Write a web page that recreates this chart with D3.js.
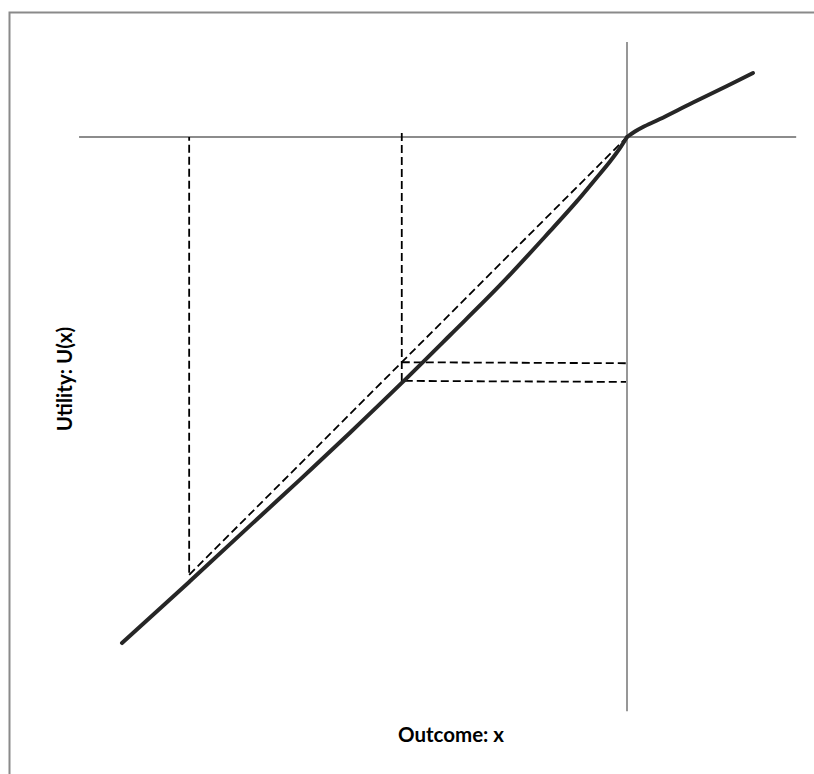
<!DOCTYPE html>
<html>
<head>
<meta charset="utf-8">
<script src="https://cdn.jsdelivr.net/npm/d3@7"></script>
<style>
  html, body { margin: 0; padding: 0; background: #fff; }
  svg { display: block; }
</style>
</head>
<body>
<svg id="chart" width="814" height="774"></svg>
<script>
// ---- data (outcome x, utility U(x)) ----
const lossX = [-100, -86.7, -74.7, -64.8, -54.9, -44.6, -35.0, -25.1, -15.2, -9.9, -6.3, -3.4, -1.4, 0];
const lossU = [-100.2, -88.1, -77.0, -67.9, -58.6, -48.7, -39.2, -29.3, -18.6, -12.7, -8.4, -4.9, -2.2, 0];
const gainX = [0, 1.58, 3.17, 6.53, 13.07, 19.8, 24.95];
const gainU = [0, 1.09, 1.98, 3.56, 6.83, 10.1, 12.67];
// gamble: outcomes A and 0 with equal chance; expected value and its utilities
const gambleX = [-86.7, 0];          // chord end points (outcomes)
const gambleU = [-86.7, 0];          // their utilities
const expectedX = -44.6;            // expected outcome
const expectedU = [-44.6, -48.3];   // utility of gamble (chord) and utility of expected value (curve)
const axisX = [-108.5, 33.5];       // horizontal axis extent
const axisU = [18.8, -113.7];       // vertical axis extent
const xLabel = "Outcome: x";
const yLabel = "Utility: U(x)";

const svg = d3.select("#chart");

// scales: same px per unit on both axes, origin at (627,137)
const x = d3.scaleLinear().domain([-100, 0]).range([122, 627]);
const y = d3.scaleLinear().domain([-100, 0]).range([642, 137]);

// frame
svg.append("rect")
  .attr("x", 9.5).attr("y", 12.5)
  .attr("width", 820).attr("height", 800)
  .attr("fill", "none").attr("stroke", "#8a8a8a").attr("stroke-width", 2);

// axes
const axisColor = "#8c8c8c";
svg.append("line")
  .attr("x1", x(axisX[0])).attr("x2", x(axisX[1]))
  .attr("y1", y(0)).attr("y2", y(0))
  .attr("stroke", axisColor).attr("stroke-width", 1.8);
svg.append("line")
  .attr("x1", x(0)).attr("x2", x(0))
  .attr("y1", y(axisU[0])).attr("y2", y(axisU[1]))
  .attr("stroke", axisColor).attr("stroke-width", 1.8);

// dashed guide lines
const g = svg.append("g")
  .attr("stroke", "#000").attr("stroke-width", 1.8)
  .attr("stroke-dasharray", "8,4").attr("fill", "none");

g.append("line")
  .attr("x1", x(gambleX[0])).attr("x2", x(gambleX[0]))
  .attr("y1", y(gambleU[0]) - 2).attr("y2", y(0));
g.append("line")
  .attr("x1", x(expectedX)).attr("x2", x(expectedX))
  .attr("y1", y(expectedU[1])).attr("y2", y(0) - 7);
g.append("line")
  .attr("x1", x(gambleX[0])).attr("y1", y(gambleU[0]))
  .attr("x2", x(gambleX[1])).attr("y2", y(gambleU[1]));
expectedU.forEach((u, i) => {
  g.append("line")
    .attr("x1", x(expectedX) + (i ? 3 : 0)).attr("x2", x(0) - 1)
    .attr("y1", y(u)).attr("y2", y(u) + 1);
});

// utility curve
const line = d3.line().x(d => x(d[0])).y(d => y(d[1])).curve(d3.curveCatmullRom.alpha(0.5));
const curveStyle = sel => sel.attr("fill", "none").attr("stroke", "#262626")
  .attr("stroke-width", 4).attr("stroke-linecap", "round").attr("stroke-linejoin", "round");
svg.append("path").datum(d3.zip(lossX, lossU)).attr("d", line).call(curveStyle);
svg.append("path").datum(d3.zip(gainX, gainU)).attr("d", line).call(curveStyle);

// labels
const font = "Lato, 'Open Sans', sans-serif";
svg.append("text")
  .attr("x", 451).attr("y", 742)
  .attr("text-anchor", "middle")
  .attr("font-family", font).attr("font-weight", "bold").attr("font-size", 20.5)
  .attr("fill", "#000")
  .text(xLabel);
svg.append("text")
  .attr("transform", "translate(72,379) rotate(-90)")
  .attr("text-anchor", "middle")
  .attr("font-family", font).attr("font-weight", "bold").attr("font-size", 20.5)
  .attr("fill", "#000")
  .text(yLabel);
</script>
</body>
</html>
